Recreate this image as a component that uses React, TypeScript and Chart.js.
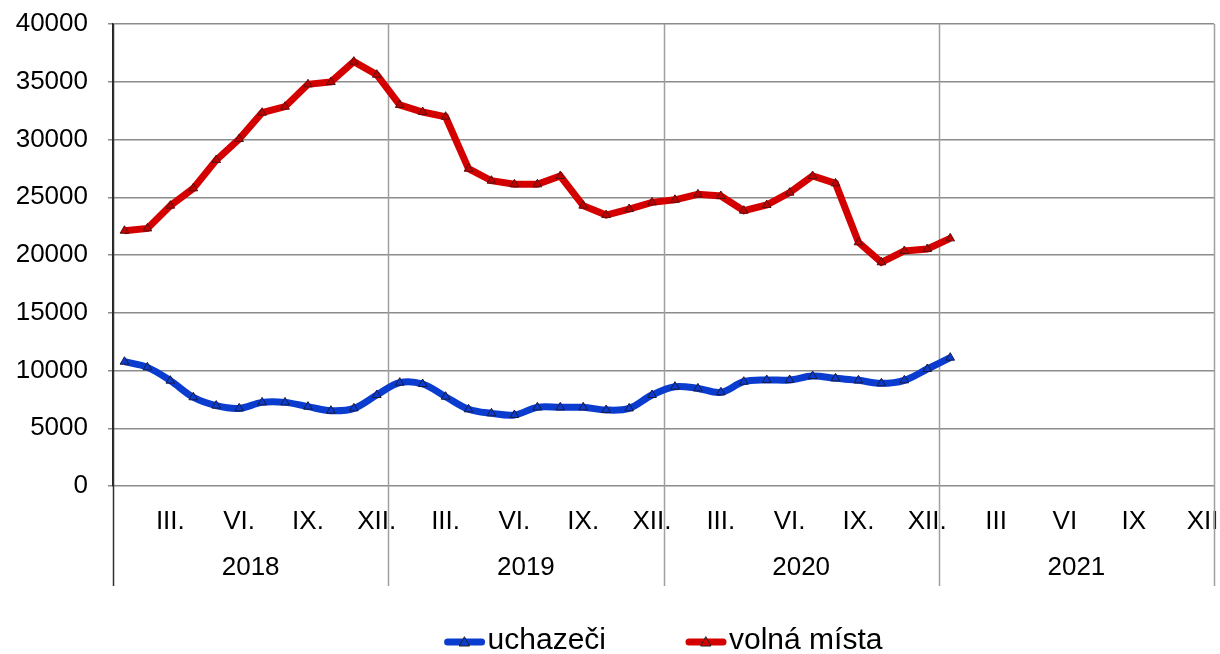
import React, { useEffect, useRef } from "react";
import { Chart, registerables } from "chart.js";

Chart.register(...registerables);

const years = ["2018", "2019", "2020", "2021"];
const monthTicksWithDot = ["", "", "III.", "", "", "VI.", "", "", "IX.", "", "", "XII."];
const monthTicksNoDot = ["", "", "III", "", "", "VI", "", "", "IX", "", "", "XII"];
const monthNames = ["I", "II", "III", "IV", "V", "VI", "VII", "VIII", "IX", "X", "XI", "XII"];

const uchazeci = [
  10760, 10270, 9120, 7680, 6960, 6720, 7240, 7240, 6870, 6520, 6720, 7880,
  8950, 8830, 7730, 6640, 6290, 6150, 6810, 6810, 6810, 6580, 6720, 7880,
  8600, 8450, 8110, 9030, 9180, 9180, 9520, 9320, 9150, 8890, 9150, 10130,
  11110,
];
const volnaMista = [
  22100, 22300, 24270, 25770, 28220, 30040, 32320, 32840, 34780, 34980, 36740, 35610,
  32990, 32380, 31970, 27470, 26430, 26120, 26120, 26840, 24270, 23460, 23980, 24560,
  24780, 25250, 25110, 23840, 24330, 25400, 26840, 26200, 21100, 19370, 20350, 20520,
  21440,
];

const yTicks = { min: 0, max: 40000, step: 5000 };

const FONT = "'Liberation Sans', Arial, sans-serif";
const BLUE = "#0a3ccf";
const RED = "#d40000";

const categories = years.flatMap((y) => monthNames.map((m) => `${m} ${y}`));
const monthTickLabels = years.flatMap((_, yi) => (yi < 3 ? monthTicksWithDot : monthTicksNoDot));

export default function App() {
  const ref = useRef<HTMLCanvasElement>(null);

  useEffect(() => {
    if (!ref.current) return;

    const boundaryX = (chart: any, b: number) => {
      const x = chart.scales.x;
      const { left, right } = chart.chartArea;
      if (b === 0) return left;
      if (b === categories.length) return right;
      return (x.getPixelForValue(b - 1) + x.getPixelForValue(b)) / 2;
    };

    const decor = {
      id: "decor",
      beforeDatasetsDraw(chart: any) {
        const ctx = chart.ctx;
        const { top } = chart.chartArea;
        ctx.save();
        for (let i = 0; i <= years.length; i++) {
          const px = Math.round(boundaryX(chart, i * 12)) + 0.5;
          ctx.beginPath();
          ctx.strokeStyle = i === 0 ? "#333333" : "#a0a0a0";
          ctx.lineWidth = 1.5;
          ctx.moveTo(px, top);
          ctx.lineTo(px, 586);
          ctx.stroke();
        }
        ctx.restore();
      },
      afterDraw(chart: any) {
        const ctx = chart.ctx;
        ctx.save();
        // year labels
        ctx.font = `26px ${FONT}`;
        ctx.fillStyle = "#000";
        ctx.textAlign = "center";
        ctx.textBaseline = "middle";
        for (let i = 0; i < years.length; i++) {
          const a = boundaryX(chart, i * 12);
          const b = boundaryX(chart, (i + 1) * 12);
          ctx.fillText(years[i], (a + b) / 2, 568);
        }
        // legend
        const items = chart.data.datasets.map((d: any) => ({ label: d.label, color: d.borderColor }));
        ctx.font = `30px ${FONT}`;
        const sample = 40;
        const gapText = 3;
        const gapItems = 80;
        const widths = items.map((it: any) => sample + gapText + ctx.measureText(it.label).width);
        const total = widths.reduce((s: number, w: number) => s + w, 0) + gapItems * (items.length - 1);
        const { left, right } = chart.chartArea;
        let x0 = (left + right) / 2 - total / 2;
        const ly = 642;
        items.forEach((it: any, idx: number) => {
          ctx.beginPath();
          ctx.strokeStyle = it.color;
          ctx.lineWidth = 7;
          ctx.lineCap = "round";
          ctx.moveTo(x0 + 3, ly);
          ctx.lineTo(x0 + sample - 3, ly);
          ctx.stroke();
          const cx = x0 + sample / 2;
          ctx.beginPath();
          ctx.moveTo(cx, ly - 5);
          ctx.lineTo(cx + 5, ly + 4);
          ctx.lineTo(cx - 5, ly + 4);
          ctx.closePath();
          ctx.fillStyle = it.color;
          ctx.fill();
          ctx.lineWidth = 1;
          ctx.strokeStyle = "#222";
          ctx.stroke();
          ctx.fillStyle = "#000";
          ctx.textAlign = "left";
          ctx.textBaseline = "middle";
          ctx.fillText(it.label, x0 + sample + gapText, ly - 1);
          x0 += widths[idx] + gapItems;
        });
        ctx.restore();
      },
    };

    const chart = new Chart(ref.current, {
      type: "line",
      data: {
        labels: categories,
        datasets: [
          {
            label: "uchazeči",
            data: uchazeci,
            borderColor: BLUE,
            backgroundColor: BLUE,
            borderWidth: 7,
            tension: 0.35,
            pointStyle: "triangle",
            pointRadius: 5,
            pointBackgroundColor: BLUE,
            pointBorderColor: "#1a1a40",
            pointBorderWidth: 1,
          },
          {
            label: "volná místa",
            data: volnaMista,
            borderColor: RED,
            backgroundColor: RED,
            borderWidth: 7,
            tension: 0,
            pointStyle: "triangle",
            pointRadius: 5,
            pointBackgroundColor: "#c00000",
            pointBorderColor: "#5a1010",
            pointBorderWidth: 1,
          },
        ],
      },
      options: {
        animation: false,
        responsive: true,
        maintainAspectRatio: false,
        layout: { padding: { left: 0, right: 5, top: 24, bottom: 68 } },
        plugins: {
          legend: { display: false },
          tooltip: { enabled: false },
        },
        scales: {
          x: {
            type: "category",
            offset: true,
            grid: { display: false },
            border: { display: false },
            afterFit: (scale: any) => {
              scale.height = 100;
              scale.paddingLeft = 0;
              scale.paddingRight = 0;
            },
            ticks: {
              autoSkip: false,
              maxRotation: 0,
              minRotation: 0,
              padding: 12,
              color: "#000",
              font: { family: FONT, size: 26 },
              callback: (_v: any, i: number) => monthTickLabels[i],
            },
          },
          y: {
            min: yTicks.min,
            max: yTicks.max,
            afterFit: (scale: any) => {
              scale.width = 113;
              scale.paddingTop = 0;
              scale.paddingBottom = 0;
            },
            grid: {
              color: "#8c8c8c",
              lineWidth: 1.5,
              tickLength: 5,
            },
            border: { display: true, color: "#222", width: 1.5 },
            ticks: {
              stepSize: yTicks.step,
              padding: 20,
              color: "#000",
              font: { family: FONT, size: 26 },
              callback: (v: any) => String(v),
            },
          },
        },
      },
      plugins: [decor],
    });

    return () => chart.destroy();
  }, []);

  return (
    <div style={{ position: "fixed", left: 0, top: 0, width: 1220, height: 654, background: "#fff" }}>
      <canvas ref={ref} />
    </div>
  );
}
